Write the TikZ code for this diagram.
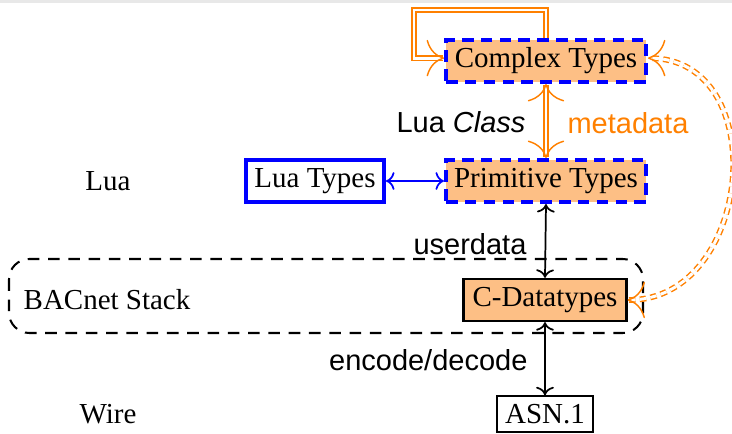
\documentclass[tikz,border=0pt]{standalone}
\usepackage{fontspec}
\setmainfont{Liberation Serif}
\setsansfont{Liberation Sans}
\usetikzlibrary{arrows.meta}
\definecolor{boxfill}{RGB}{253,191,133}
\definecolor{lineorange}{RGB}{255,128,0}
\tikzset{
  luabox/.style={draw=blue, line width=1.4pt, dashed, dash pattern=on 4pt off 2.5pt, fill=boxfill,
    minimum width=69pt, minimum height=14.5pt, inner sep=0pt},
  plainblue/.style={draw=blue, line width=1.4pt, minimum width=47.6pt, minimum height=14.8pt, inner sep=0pt},
  cbox/.style={draw=black, line width=0.8pt, fill=boxfill, minimum width=56.2pt, minimum height=14.5pt, inner sep=0pt},
  wirebox/.style={draw=black, line width=0.5pt, minimum width=33pt, minimum height=12.4pt, inner sep=0pt},
  layer/.style={font=\rmfamily},
  orangelink/.style={draw=lineorange, double=white, line width=0.5pt, double distance=1pt},
  plainlink/.style={draw=black, line width=0.6pt, <->},
  lbl/.style={font=\sffamily, inner sep=0pt},
}
\begin{document}
\begin{tikzpicture}[x=0.345pt, y=-0.345pt]
  \useasboundingbox (0,0) rectangle (732,434);
  \fill[gray!18] (0,0) rectangle (732,3);

  % BACnet stack layer
  \draw[line width=0.7pt, dashed, dash pattern=on 4pt off 3pt, rounded corners=7pt]
    (9,259) rectangle (643,333);

  % layer names
  \node[layer] (lua) at (108,181) {Lua};
  \node[layer] (stack) at (107,300) {BACnet Stack};
  \node[layer] (wire) at (108,414) {Wire};

  % type nodes
  \node[luabox] (ct) at (546,61) {Complex Types};
  \node[luabox] (pt) at (546,181) {Primitive Types};
  \node[plainblue] (lt) at (315,181) {Lua Types};
  \node[cbox] (cd) at (545,300) {C-Datatypes};
  \node[wirebox] (asn) at (545,414) {ASN.1};

  % self loop on complex types
  \coordinate (loopcorner) at (414,10);
  \draw[orangelink, ->] (ct.north) |- (loopcorner) |- ([yshift=1pt]ct.west);

  % Lua class relation
  \draw[orangelink, <->] (ct.south) -- (pt.north);
  \node[lbl, anchor=east] (cls) at (526,122) {Lua \textit{Class}};
  \node[lbl, anchor=west, text=lineorange] (meta) at (567,123) {metadata};

  % metadata link down to the C datatypes
  \draw[orangelink, dashed, dash pattern=on 2.2pt off 1.5pt, <->]
    (cd.east) to[out=0, in=0, looseness=1.33] ([yshift=1pt]ct.east);

  % Lua types to primitive types
  \draw[blue, line width=0.6pt, <->] (lt.east) -- (pt.west);

  % userdata and wire encoding
  \draw[plainlink] (pt.south) -- (cd.north);
  \node[lbl, anchor=east] (ud) at (527,244) {userdata};
  \draw[plainlink] (cd.south) -- (asn.north);
  \node[lbl, anchor=east] (enc) at (528,360) {encode/decode};
\end{tikzpicture}
\end{document}
